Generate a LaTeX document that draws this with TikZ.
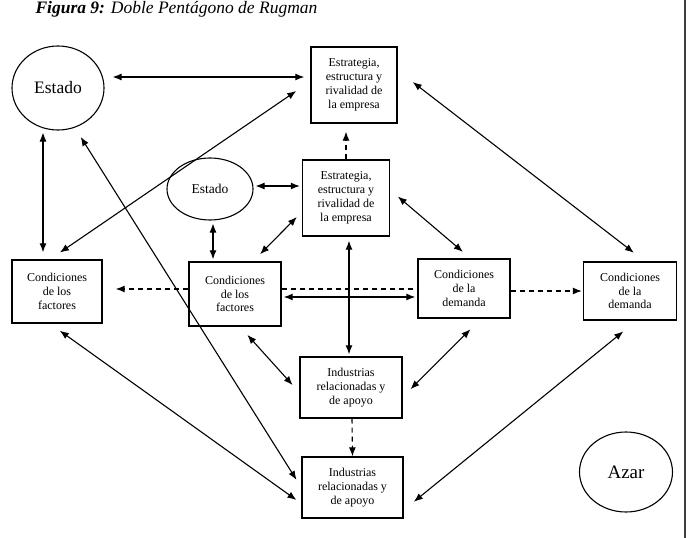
\documentclass[tikz,border=0pt]{standalone}
\usepackage{fontspec}
\setmainfont{Liberation Serif}
\usetikzlibrary{arrows.meta, shapes.geometric}
\tikzstyle{block} = [rectangle, draw, line width=1.4pt, align=center,
    inner sep=0pt, font=\fontsize{12}{13.8}\selectfont]
\tikzstyle{estado} = [ellipse, draw, line width=1.1pt, inner sep=0pt]

\begin{document}
\begin{tikzpicture}[
x=1pt, y=-1pt,
>={Latex[length=9pt, width=7pt]},
link/.style = {<->, line width=1.1pt},
flow/.style = {->, line width=1.1pt, dash pattern=on 5pt off 4pt},
trazo/.style = {line width=1.1pt, dash pattern=on 5pt off 4pt}
                        ]
\useasboundingbox (0,0) rectangle (689,538);
\draw[line width=1.5pt, black!75] (685,0) -- (685,538);
\node[anchor=base west, font=\fontsize{17.5}{20}\selectfont] (titulo) at (32,13)
  {\textbf{\textit{Figura 9:}} \textit{Doble Pentágono de Rugman}};
% outer pentagon
\node [estado, minimum width=92pt, minimum height=84pt,
  font=\fontsize{17.5}{20}\selectfont] (estA) at (58,88) {Estado};
\node [block, minimum width=86pt, minimum height=76pt] (estrA) at (354,85)
  {Estrategia,\\estructura y\\rivalidad de\\la empresa};
\node [block, minimum width=90pt, minimum height=63pt] (facA) at (57,291.5)
  {Condiciones\\de los\\factores};
\node [block, minimum width=93pt, minimum height=58pt] (demA) at (630,291)
  {Condiciones\\de la\\demanda};
\node [block, minimum width=101pt, minimum height=61pt] (indA) at (352.5,487.5)
  {Industrias\\relacionadas y\\de apoyo};
% inner pentagon
\node [estado, minimum width=86pt, minimum height=62pt,
  font=\fontsize{13.5}{15}\selectfont] (estB) at (210,189) {Estado};
\node [block, minimum width=87pt, minimum height=76pt] (estrB) at (346,198)
  {Estrategia,\\estructura y\\rivalidad de\\la empresa};
\node [block, minimum width=92pt, minimum height=64pt] (facB) at (235,294)
  {Condiciones\\de los\\factores};
\node [block, minimum width=92pt, minimum height=59pt] (demB) at (464,288.5)
  {Condiciones\\de la\\demanda};
\node [block, minimum width=102pt, minimum height=61pt] (indB) at (351,387.5)
  {Industrias\\relacionadas y\\de apoyo};
% chance
\node [estado, minimum width=93pt, minimum height=80pt,
  font=\fontsize{19}{22}\selectfont] (azar) at (626,472) {Azar};

% outer links
\draw[link, shorten <=8pt, shorten >=6pt] ([yshift=11pt]estA.east) -- ([yshift=8pt]estrA.west);
\draw[link, shorten <=12pt, shorten >=17pt] ([xshift=-7pt]facA.north) -- ([yshift=3.6pt]estrA.west);
\draw[link, shorten <=2pt, shorten >=7pt] ([xshift=-15pt]estA.south) -- ([xshift=-14pt]facA.north);
\draw[link, shorten <=11pt, shorten >=9pt] (estA.-67) -- (indA.west);
\draw[link, shorten <=19pt, shorten >=14pt] ([yshift=14.6pt]estrA.east) -- ([xshift=15pt]demA.north);
\draw[link, shorten <=12pt, shorten >=6pt] ([xshift=-7pt]facA.south) -- ([yshift=-16pt]indA.west);
\draw[link, shorten <=17pt, shorten >=13pt] ([xshift=6.5pt]demA.south) -- ([yshift=-22.5pt]indA.east);
% inner links
\draw[link, shorten <=2pt, shorten >=2pt] ([yshift=3pt]estB.east) -- ([yshift=12pt]estrB.west);
\draw[link, shorten <=3pt, shorten >=2pt] ([xshift=3pt]estB.south) -- ([xshift=-22pt]facB.north);
\draw[link, shorten <=7pt, shorten >=10pt] ([yshift=-14pt]estrB.west) -- ([xshift=18pt]facB.north);
\draw[link, shorten <=10pt, shorten >=10pt] ([yshift=8pt]estrB.east) -- ([xshift=6.5pt]demB.north);
\draw[link, shorten <=4pt, shorten >=2pt] ([xshift=3pt]estrB.south) -- ([xshift=-2pt]indB.north);
\draw[link, shorten <=2pt, shorten >=2pt] ([yshift=-3pt]facB.east) -- ([yshift=-8.5pt]demB.west);
\draw[link, shorten <=11pt, shorten >=10pt] ([xshift=5pt]facB.south) -- ([yshift=-5pt]indB.west);
\draw[link, shorten <=15pt, shorten >=11pt] ([xshift=17pt]demB.south) -- ([yshift=-9.5pt]indB.east);
% dashed links between the two
\draw[flow, shorten >=8pt] (estrB.north) -- ([xshift=-8pt]estrA.south);
\draw[flow, shorten >=13pt] ([yshift=5pt]facB.west) -- ([yshift=2.5pt]facA.east);
\draw[trazo] ([yshift=5pt]facB.east) -- ([yshift=-0.5pt]demB.west);
\draw[flow, shorten >=1pt] ([yshift=-2.5pt]demB.east) -- (demA.west);
\draw[flow] ([xshift=1pt]indB.south) -- (indA.north);
\end{tikzpicture}
\end{document}
